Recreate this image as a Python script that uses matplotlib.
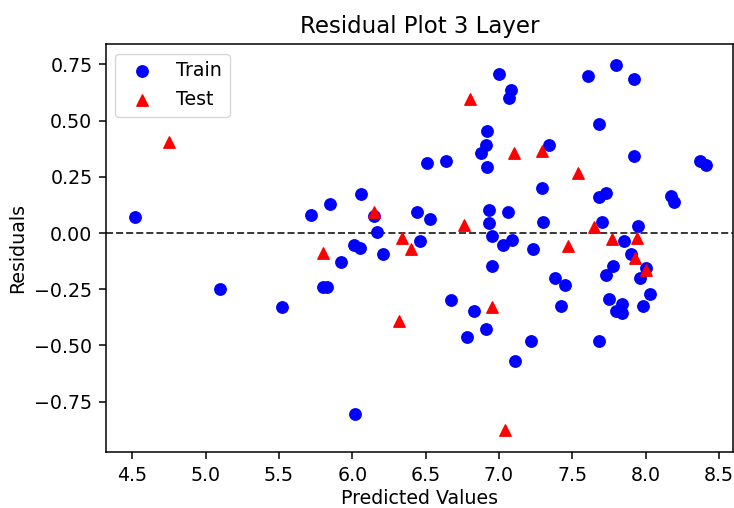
import matplotlib
matplotlib.use("Agg")
import matplotlib.pyplot as plt

train_x = [4.52, 5.72, 5.85, 6.06, 6.15, 6.17, 6.44, 6.46, 6.01, 6.05, 5.92, 6.21,
           5.80, 5.83, 5.10, 5.52, 6.02, 7.00, 7.08, 7.07, 7.61, 7.80, 7.92, 7.68,
           6.92, 6.91, 6.88, 6.92, 7.34, 6.51, 6.64, 7.92, 8.37, 8.41, 7.29, 7.68,
           7.73, 8.17, 8.19, 6.53, 6.93, 7.06, 6.93, 7.30, 7.70, 7.95, 6.95, 7.03,
           7.09, 7.23, 7.85, 6.95, 6.67, 6.83, 6.78, 6.91, 7.22, 7.11, 7.38, 7.45,
           7.42, 7.68, 7.78, 7.73, 7.75, 7.84, 7.80, 7.84, 7.90, 8.00, 7.96, 8.03,
           7.98]
train_y = [0.070, 0.080, 0.130, 0.172, 0.076, 0.005, 0.093, -0.035, -0.055, -0.065,
           -0.128, -0.093, -0.240, -0.240, -0.250, -0.329, -0.804, 0.706, 0.636,
           0.599, 0.697, 0.746, 0.685, 0.485, 0.455, 0.393, 0.355, 0.292, 0.390,
           0.313, 0.320, 0.343, 0.322, 0.304, 0.202, 0.162, 0.179, 0.166, 0.139,
           0.061, 0.102, 0.095, 0.046, 0.047, 0.050, 0.031, -0.015, -0.053, -0.031,
           -0.073, -0.036, -0.147, -0.300, -0.345, -0.461, -0.427, -0.480, -0.569,
           -0.199, -0.231, -0.326, -0.479, -0.145, -0.187, -0.294, -0.317, -0.346,
           -0.355, -0.095, -0.157, -0.199, -0.271, -0.323]

test_x = [4.75, 6.15, 6.34, 6.40, 5.80, 6.32, 6.80, 7.10, 7.29, 7.54, 6.76, 7.65,
          7.47, 7.77, 7.94, 6.95, 7.04, 7.93, 8.00]
test_y = [0.405, 0.095, -0.022, -0.070, -0.090, -0.391, 0.595, 0.357, 0.366, 0.268,
          0.036, 0.028, -0.058, -0.028, -0.022, -0.328, -0.876, -0.113, -0.165]

k = 1.37
plt.rcParams.update({
    'font.size': 10 * k,
    'axes.linewidth': 0.8 * k,
    'xtick.major.width': 0.8 * k,
    'ytick.major.width': 0.8 * k,
    'xtick.major.size': 3.5 * k,
    'ytick.major.size': 3.5 * k,
    'xtick.major.pad': 3.5 * k,
    'ytick.major.pad': 3.5 * k,
})

fig = plt.figure(figsize=(7.34, 5.08), dpi=100)
ax = fig.add_axes([0.144, 0.1096, 0.8546, 0.8032])

ax.axhline(0, color='k', linestyle='--', linewidth=1.0 * k, alpha=0.8, zorder=0.5)
ax.scatter(train_x, train_y, c='b', marker='o', s=36 * k * k, label='Train')
ax.scatter(test_x, test_y, c='r', marker='^', s=36 * k * k, label='Test')

ax.set_xlim(4.319, 8.595)
ax.set_ylim(-0.975, 0.839)
ax.set_title('Residual Plot 3 Layer', pad=6 * k)
ax.set_xlabel('Predicted Values', labelpad=2.5 * k)
ax.set_ylabel('Residuals', labelpad=4 * k)
ax.set_xticks([4.5, 5.0, 5.5, 6.0, 6.5, 7.0, 7.5, 8.0, 8.5])
ax.set_yticks([-0.75, -0.5, -0.25, 0.0, 0.25, 0.5, 0.75])
ax.legend(loc='upper left')

fig.savefig('out.png', dpi=100)
